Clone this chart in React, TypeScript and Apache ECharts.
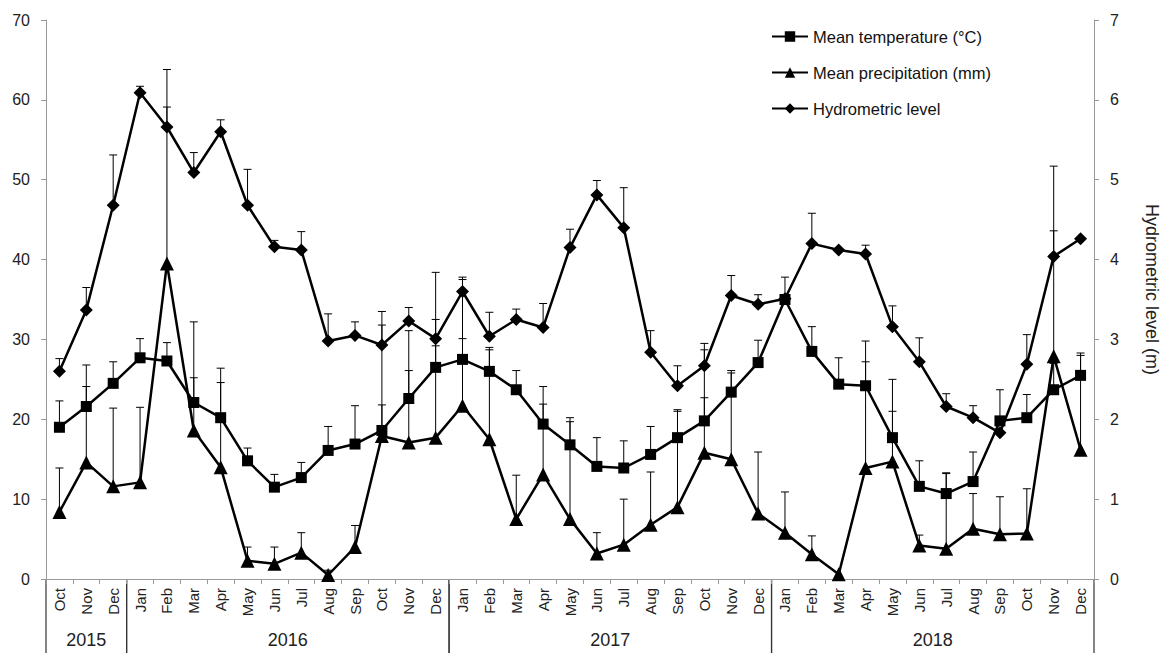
import React, { useEffect, useRef } from "react";
import * as echarts from "echarts";

const MONTHS = ["Oct","Nov","Dec","Jan","Feb","Mar","Apr","May","Jun","Jul","Aug","Sep","Oct","Nov","Dec","Jan","Feb","Mar","Apr","May","Jun","Jul","Aug","Sep","Oct","Nov","Dec","Jan","Feb","Mar","Apr","May","Jun","Jul","Aug","Sep","Oct","Nov","Dec"];

// year groups: [first category index, last category index]
const YEAR_LABELS = ["2015", "2016", "2017", "2018"];
const YEAR_RANGES = [[0, 2], [3, 14], [15, 26], [27, 38]];

const TEMP = [19.0, 21.6, 24.5, 27.7, 27.3, 22.1, 20.2, 14.8, 11.5, 12.7, 16.1, 16.9, 18.6, 22.6, 26.5, 27.5, 26.0, 23.7, 19.4, 16.8, 14.1, 13.9, 15.6, 17.7, 19.8, 23.4, 27.1, 35.0, 28.5, 24.4, 24.2, 17.7, 11.6, 10.7, 12.2, 19.8, 20.2, 23.7, 25.5];
const TEMP_TOP = [22.3, 24.1, 27.2, 30.1, 29.6, 25.2, 24.6, 16.4, 13.1, 14.6, 19.1, 21.7, 21.8, 26.1, 29.2, 30.1, 28.7, 26.1, 21.9, 19.7, 17.7, 17.3, 19.1, 21.2, 22.7, 26.1, 29.9, 37.8, 31.6, 27.7, 29.8, 21.0, 14.8, 13.3, 15.9, 23.7, 23.1, 27.0, 28.3];

const PRECIP = [8.4, 14.6, 11.6, 12.1, 39.5, 18.6, 14.0, 2.3, 1.9, 3.3, 0.5, 4.0, 17.9, 17.1, 17.7, 21.7, 17.5, 7.5, 13.1, 7.5, 3.2, 4.3, 6.8, 9.0, 15.8, 15.0, 8.2, 5.8, 3.1, 0.6, 13.9, 14.7, 4.2, 3.8, 6.3, 5.6, 5.7, 27.9, 16.2];
const PRECIP_TOP = [13.9, 26.8, 21.4, 21.5, 63.8, 32.2, 26.4, 4.0, 4.0, 5.8, 1.1, 6.7, 33.5, 31.1, 38.4, 37.5, 29.0, 13.0, 24.1, 20.2, 5.8, 10.0, 13.4, 21.0, 28.7, 25.8, 15.9, 10.9, 5.4, null, 27.2, 25.0, 5.5, 13.2, 10.7, 10.3, 11.3, 51.7, 28.0];

const HYDRO = [2.60, 3.37, 4.68, 6.09, 5.66, 5.09, 5.60, 4.68, 4.16, 4.12, 2.98, 3.05, 2.93, 3.23, 3.01, 3.60, 3.04, 3.25, 3.15, 4.15, 4.81, 4.40, 2.84, 2.42, 2.67, 3.55, 3.44, 3.51, 4.20, 4.12, 4.07, 3.16, 2.72, 2.16, 2.02, 1.83, 2.69, 4.04, 4.26];
const HYDRO_TOP = [2.76, 3.65, 5.31, 6.17, 5.91, 5.34, 5.75, 5.13, 4.24, 4.35, 3.32, 3.22, 3.18, 3.40, 3.25, 3.78, 3.34, 3.38, 3.45, 4.38, 4.99, 4.90, 3.11, 2.67, 2.95, 3.80, 3.56, null, 4.58, null, 4.18, 3.42, 3.02, 2.32, 2.17, null, 3.06, 4.36, null];

const FONT = "Liberation Sans, Arial, sans-serif";

function errorSeries(values: number[], tops: (number | null)[], yAxisIndex: number) {
  const data: number[][] = [];
  tops.forEach((t, i) => {
    if (t != null) data.push([i, t, values[i]]);
  });
  return {
    type: "custom",
    yAxisIndex,
    z: 1,
    silent: true,
    encode: { x: 0, y: [1, 2] },
    renderItem: (params: any, api: any) => {
      const x = api.value(0);
      const top = api.value(1);
      const base = api.value(2);
      const p0 = api.coord([x, base]);
      const p1 = api.coord([x, top]);
      return {
        type: "group",
        children: [
          { type: "line", shape: { x1: p0[0], y1: p0[1], x2: p1[0], y2: p1[1] }, style: { stroke: "#000", lineWidth: 1 } },
          { type: "line", shape: { x1: p1[0] - 4, y1: p1[1], x2: p1[0] + 4, y2: p1[1] }, style: { stroke: "#000", lineWidth: 1 } },
        ],
      };
    },
    data,
  };
}

export default function App() {
  const ref = useRef<HTMLDivElement>(null);
  useEffect(() => {
    document.body.style.margin = "0";
    if (!ref.current) return;
    const chart = echarts.init(ref.current, null, { renderer: "svg" });
    const yearData = YEAR_RANGES.map((r) => [r[0], r[1]]);
    const option: any = {
      animation: false,
      backgroundColor: "#fff",
      textStyle: { fontFamily: FONT },
      grid: { left: 46, right: 69, top: 20, bottom: 74, containLabel: false, outerBoundsMode: "none" },
      legend: {
        orient: "vertical",
        left: 766,
        top: 23,
        itemWidth: 36,
        itemHeight: 13,
        itemGap: 19,
        textStyle: { fontFamily: FONT, fontSize: 16.5, color: "#111" },
        data: ["Mean temperature (°C)", "Mean precipitation (mm)", "Hydrometric level"],
      },
      xAxis: {
        type: "category",
        data: MONTHS,
        boundaryGap: true,
        axisLine: { lineStyle: { color: "#999", width: 1 } },
        axisTick: { show: true, length: 5, lineStyle: { color: "#999" }, interval: 0 },
        axisLabel: { rotate: 90, interval: 0, margin: 9, fontSize: 15, color: "#222", fontFamily: FONT },
        splitLine: { show: false },
      },
      yAxis: [
        {
          type: "value",
          min: 0,
          max: 70,
          interval: 10,
          axisLine: { show: true, lineStyle: { color: "#999" } },
          axisTick: { show: true, length: 5, lineStyle: { color: "#999" } },
          axisLabel: { fontSize: 16, color: "#222", margin: 16, fontFamily: FONT },
          splitLine: { show: false },
        },
        {
          type: "value",
          min: 0,
          max: 7,
          interval: 1,
          position: "right",
          name: "Hydrometric level (m)",
          nameLocation: "middle",
          nameRotate: -90,
          nameGap: 49,
          nameTextStyle: { fontSize: 18, color: "#222", fontFamily: FONT, padding: [0, 20, 0, 0] },
          axisLine: { show: true, lineStyle: { color: "#999" } },
          axisTick: { show: true, length: 5, lineStyle: { color: "#999" } },
          axisLabel: { fontSize: 16, color: "#222", margin: 16, fontFamily: FONT },
          splitLine: { show: false },
        },
      ],
      series: [
        errorSeries(TEMP, TEMP_TOP, 0),
        errorSeries(PRECIP, PRECIP_TOP, 0),
        errorSeries(HYDRO, HYDRO_TOP, 1),
        {
          name: "Mean temperature (°C)",
          type: "line",
          data: TEMP,
          yAxisIndex: 0,
          z: 3,
          symbol: "rect",
          symbolSize: 11,
          lineStyle: { color: "#000", width: 2.5 },
          itemStyle: { color: "#000" },
        },
        {
          name: "Mean precipitation (mm)",
          type: "line",
          data: PRECIP,
          yAxisIndex: 0,
          z: 3,
          symbol: "triangle",
          symbolSize: 14,
          lineStyle: { color: "#000", width: 2.5 },
          itemStyle: { color: "#000" },
        },
        {
          name: "Hydrometric level",
          type: "line",
          data: HYDRO,
          yAxisIndex: 1,
          z: 3,
          symbol: "diamond",
          symbolSize: 13,
          lineStyle: { color: "#000", width: 2.5 },
          itemStyle: { color: "#000" },
        },
        {
          type: "custom",
          yAxisIndex: 0,
          silent: true,
          clip: false,
          z: 0,
          encode: { x: [0, 1] },
          renderItem: (params: any, api: any) => {
            const s = api.value(0);
            const e = api.value(1);
            const band = api.size([1, 0])[0];
            const ps = api.coord([s, 0]);
            const pe = api.coord([e, 0]);
            const x0 = ps[0] - band / 2;
            const x1 = pe[0] + band / 2;
            const y0 = ps[1];
            return {
              type: "group",
              children: [
                { type: "line", shape: { x1: x0, y1: y0, x2: x0, y2: y0 + 74 }, style: { stroke: "#333", lineWidth: 1.2 } },
                { type: "line", shape: { x1: x1, y1: y0, x2: x1, y2: y0 + 74 }, style: { stroke: "#333", lineWidth: 1.2 } },
                {
                  type: "text",
                  style: {
                    text: YEAR_LABELS[params.dataIndex],
                    x: (x0 + x1) / 2,
                    y: y0 + 61,
                    align: "center",
                    verticalAlign: "middle",
                    fontSize: 18,
                    fontFamily: FONT,
                    fill: "#222",
                  },
                },
              ],
            };
          },
          data: yearData,
        },
      ],
    };
    chart.setOption(option);
    return () => chart.dispose();
  }, []);
  return <div ref={ref} style={{ width: 1163, height: 653 }} />;
}
